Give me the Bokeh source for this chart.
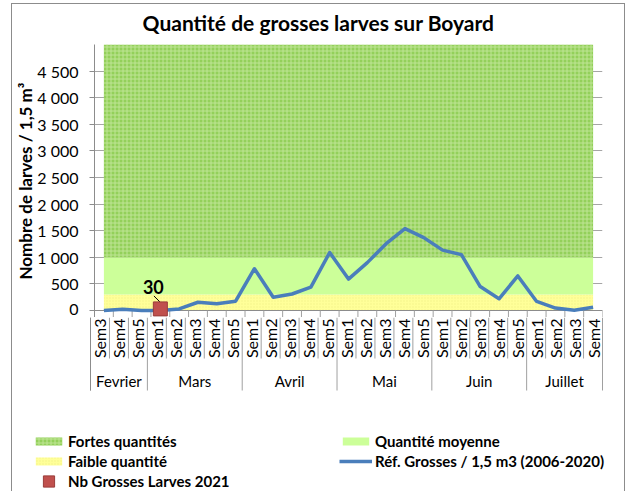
import math
from bokeh.plotting import figure
from bokeh.layouts import column
from bokeh.models import Range1d, FixedTicker, Legend, LegendItem, Plot
from bokeh.core.properties import value
from bokeh.embed import file_html
from bokeh.resources import INLINE

# ---------------- data ----------------
title_text = "Quantité de grosses larves sur Boyard"
y_title = "Nombre de larves / 1,5 m³"
months = ["Fevrier", "Mars", "Avril", "Mai", "Juin", "Juillet"]
month_weeks = [
    ["Sem3", "Sem4", "Sem5"],
    ["Sem1", "Sem2", "Sem3", "Sem4", "Sem5"],
    ["Sem1", "Sem2", "Sem3", "Sem4", "Sem5"],
    ["Sem1", "Sem2", "Sem3", "Sem4", "Sem5"],
    ["Sem1", "Sem2", "Sem3", "Sem4", "Sem5"],
    ["Sem1", "Sem2", "Sem3", "Sem4"],
]
ref_values = [0, 25, 0, 0, 30, 155, 125, 175, 785, 250, 310, 440, 1090,
              590, 900, 1255, 1540, 1370, 1135, 1050, 450, 220, 650,
              170, 45, 5, 60]
nb_month, nb_week, nb_value = "Mars", "Sem1", 30
faible_max = 300
moyenne_max = 1000
fortes_max = 5000
y_ticks = [0, 500, 1000, 1500, 2000, 2500, 3000, 3500, 4000, 4500]
y_tick_labels = ["0", "500", "1 000", "1 500", "2 000", "2 500", "3 000",
                 "3 500", "4 000", "4 500"]
legend_labels = ["Fortes quantités", "Quantité moyenne", "Faible quantité",
                 "Réf. Grosses / 1,5 m3 (2006-2020)", "Nb Grosses Larves 2021"]

# ---------------- derived categories ----------------
sem_labels, month_of = [], []
for m, wk in zip(months, month_weeks):
    for w in wk:
        sem_labels.append(w)
        month_of.append(m)
n = len(sem_labels)
xs = [i + 0.5 for i in range(n)]
bounds = [0]
for wk in month_weeks:
    bounds.append(bounds[-1] + len(wk))
month_centers = [(bounds[i] + bounds[i + 1]) / 2 for i in range(len(months))]
nb_idx = [i for i in range(n) if sem_labels[i] == nb_week and month_of[i] == nb_month][0]
nb_x = xs[nb_idx]

# ---------------- layout (pixels) ----------------
W = 612
LEFT, RIGHT = 78, 22
HT = 40                # title strip
PLOT_PX = 266          # pixels from 0 to fortes_max
BELOW_A = 7            # pixels of main frame below the zero line
HA = PLOT_PX + BELOW_A
HB = 174
FRAME_W = W - LEFT - RIGHT
py = fortes_max / PLOT_PX     # data units per pixel (y)
px = n / FRAME_W              # data units per pixel (x)

FONT = "Lato"
GRAY = "#8c8c8c"
SEP = "#a0a0a0"
C_FAIBLE, C_MOY, C_FORTES, C_FORTES_H = "#ffff99", "#ccff99", "#93d05a", "#bfe595"
C_REF, C_NB, C_NB_LINE = "#4a7ebb", "#c0504d", "#9a3d3a"

HAS_FA = "frame_align" in Plot.properties()


def no_align(fig):
    if HAS_FA:
        fig.frame_align = False


# ---------------- title strip ----------------
t = figure(width=W, height=HT, x_range=Range1d(0, W), y_range=Range1d(0, HT),
           x_axis_type=None, y_axis_type=None, output_backend="svg",
           toolbar_location=None, min_border=0, title=None)
t.outline_line_color = None
no_align(t)
t.text(x=[W / 2], y=[HT - 18], text=[title_text], text_align="center",
       text_baseline="middle", text_font=value(FONT), text_font_style="bold",
       text_font_size="21px", text_color="#000000")

# ---------------- main plot ----------------
p = figure(width=W, height=HA, x_range=Range1d(0, n),
           y_range=Range1d(-BELOW_A * py, fortes_max),
           x_axis_type=None, output_backend="svg", toolbar_location=None,
           min_border_left=LEFT, min_border_right=RIGHT, min_border_top=0,
           min_border_bottom=0, title=None)
p.outline_line_color = None
no_align(p)

p.yaxis.ticker = FixedTicker(ticks=y_ticks)
p.yaxis.major_label_overrides = dict(zip(y_ticks, y_tick_labels))
p.yaxis.minor_tick_line_color = None
p.yaxis.major_tick_in = 0
p.yaxis.major_tick_out = 5
p.yaxis.axis_line_color = GRAY
p.yaxis.major_tick_line_color = GRAY
p.yaxis.major_label_standoff = 11
p.yaxis.major_label_text_font = FONT
p.yaxis.major_label_text_font_size = "16px"
p.yaxis.major_label_text_color = "#000000"
p.yaxis.axis_label = y_title
p.yaxis.axis_label_standoff = -2
p.yaxis.axis_label_text_font = FONT
p.yaxis.axis_label_text_font_size = "17px"
p.yaxis.axis_label_text_font_style = "bold"
p.yaxis.axis_label_text_color = "#000000"
p.ygrid.grid_line_color = "#a6a6a6"
p.ygrid.ticker = FixedTicker(ticks=y_ticks)

faible_kw = dict(fill_color=C_FAIBLE, hatch_pattern="dot", hatch_color="#e2e27a",
                 hatch_scale=3, hatch_alpha=0.5)
moy_kw = dict(fill_color=C_MOY)
fortes_kw = dict(fill_color=C_FORTES, hatch_pattern="cross", hatch_color=C_FORTES_H,
                 hatch_scale=4, hatch_weight=1)
ref_kw = dict(line_color=C_REF, line_width=3.5, line_join="round")
nb_kw = dict(marker="square", fill_color=C_NB, line_color=C_NB_LINE)

band_faible = dict(x=xs, y1=[0] * n, y2=[faible_max] * n)
band_moy = dict(x=xs, y1=[faible_max] * n, y2=[moyenne_max] * n)
band_fortes = dict(x=xs, y1=[moyenne_max] * n, y2=[fortes_max] * n)

p.varea(**band_faible, **faible_kw)
p.varea(**band_moy, **moy_kw)
p.varea(**band_fortes, **fortes_kw)

# x axis line and tops of separators
p.segment(x0=[0], y0=[0], x1=[n], y1=[0], line_color=GRAY, line_width=1)
p.segment(x0=list(range(n + 1)), y0=[0] * (n + 1), x1=list(range(n + 1)),
          y1=[-BELOW_A * py] * (n + 1), line_color=SEP, line_width=1)

p.line(x=xs, y=ref_values, **ref_kw)

p.segment(x0=[nb_x - 6.5 * px], y0=[nb_value + 13 * py], x1=[nb_x + 0.5 * px],
          y1=[nb_value + 6 * py], line_color="black", line_width=1)
p.scatter(x=[nb_x], y=[nb_value], size=14, **nb_kw)
p.text(x=[nb_x], y=[nb_value], text=[str(nb_value)], x_offset=-7, y_offset=-15,
       text_align="center", text_baseline="bottom", text_font=value(FONT),
       text_font_style="bold", text_font_size="18px", text_color="#000000")

# ---------------- category axis + legend panel ----------------
q = figure(width=W, height=HB,
           x_range=Range1d(-LEFT * px, n + RIGHT * px),
           y_range=Range1d(-(BELOW_A + HB) * py, -BELOW_A * py),
           x_axis_type=None, y_axis_type=None, output_backend="svg",
           toolbar_location=None, min_border=0, title=None)
q.outline_line_color = None
no_align(q)

sep_y = [-80 * py if b in bounds else -48 * py for b in range(n + 1)]
q.segment(x0=list(range(n + 1)), y0=[-BELOW_A * py] * (n + 1), x1=list(range(n + 1)),
          y1=sep_y, line_color=SEP, line_width=1)
q.segment(x0=[0], y0=[-BELOW_A * py], x1=[0], y1=[-80 * py], line_color=GRAY, line_width=1)
q.text(x=xs, y=[-8 * py] * n, text=sem_labels, angle=math.pi / 2, text_align="right",
       text_baseline="middle", text_font=value(FONT), text_font_size="16px",
       text_color="#000000")
q.text(x=month_centers, y=[-70 * py] * len(months), text=months, text_align="center",
       text_baseline="middle", text_font=value(FONT), text_font_size="15px",
       text_color="#000000")

# legend renderers in this panel: same data as the main plot, which lies above
# this panel's visible y range, so only their legend swatches show
lq_fortes = q.varea(**band_fortes, **fortes_kw)
lq_moy = q.varea(**band_moy, **moy_kw)
lq_faible = q.varea(**band_faible, **faible_kw)
lq_ref = q.line(x=xs, y=ref_values, **ref_kw)
lq_nb = q.scatter(x=[nb_x], y=[nb_value], size=14, **nb_kw)


def mk_legend(items, loc, gh=10):
    lg = Legend(items=items, location=loc, padding=0, margin=0, spacing=0,
                border_line_color=None, background_fill_alpha=0, label_standoff=3,
                glyph_width=33, glyph_height=gh, label_height=20,
                label_text_font=FONT, label_text_font_style="bold",
                label_text_font_size="15px", label_text_color="#000000")
    q.add_layout(lg)
    return lg


mk_legend([LegendItem(label=legend_labels[0], renderers=[lq_fortes]),
           LegendItem(label=legend_labels[2], renderers=[lq_faible])], (20, 20))
mk_legend([LegendItem(label=legend_labels[1], renderers=[lq_moy]),
           LegendItem(label=legend_labels[3], renderers=[lq_ref])], (327, 20))
mk_legend([LegendItem(label=legend_labels[4], renderers=[lq_nb])], (20, -4), gh=28)

layout = column(t, p, q, spacing=0)
layout.margin = (3, 0, 0, 11)
layout.styles = {"border-left": "1px solid #8c8c8c", "border-top": "1px solid #8c8c8c",
                 "border-right": "1px solid #8c8c8c"}

open("out.html", "w").write(file_html(layout, INLINE))
